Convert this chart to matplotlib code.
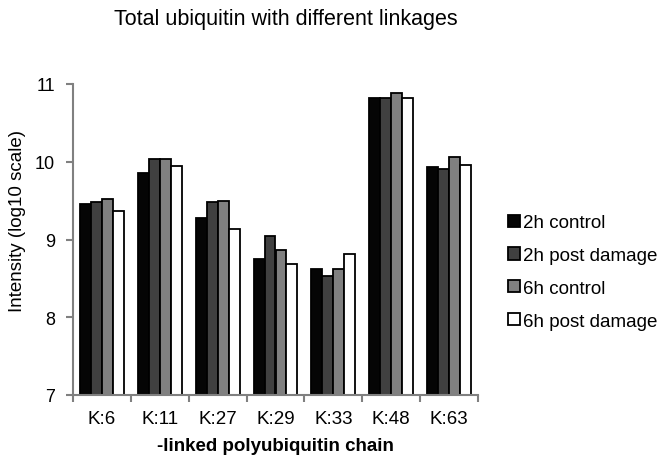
import matplotlib.pyplot as plt
import numpy as np

plt.rcParams['font.family'] = ['Liberation Sans', 'DejaVu Sans']

categories = ['K:6', 'K:11', 'K:27', 'K:29', 'K:33', 'K:48', 'K:63']
series = ['2h control', '2h post damage', '6h control', '6h post damage']
ctrl_2h = [9.46, 9.86, 9.28, 8.75, 8.62, 10.82, 9.93]
damage_2h = [9.48, 10.04, 9.48, 9.05, 8.53, 10.82, 9.91]
ctrl_6h = [9.52, 10.04, 9.50, 8.87, 8.62, 10.89, 10.06]
damage_6h = [9.37, 9.95, 9.13, 8.68, 8.81, 10.82, 9.96]
colors = ['#050505', '#404040', '#808080', '#ffffff']

W, H = 665, 460
fig = plt.figure(figsize=(W / 100, H / 100), dpi=100)
# axes box in pixels: left 73, right 478, top 85, bottom 396
ax = fig.add_axes([73 / W, 1 - 396 / H, (478 - 73) / W, (396 - 85) / H])

x = np.arange(len(categories))
w = 0.19
base = 7
for i, vals in enumerate([ctrl_2h, damage_2h, ctrl_6h, damage_6h]):
    v = np.array(vals)
    ax.bar(x + (i - 1.5) * w, v - base, w, bottom=base, color=colors[i],
           edgecolor='black', linewidth=1.3, label=series[i])

ax.set_xlim(-0.5, len(categories) - 0.5)
ax.set_ylim(7, 11)
ax.set_yticks([7, 8, 9, 10, 11])
ax.set_xticks(x)
ax.set_xticklabels(categories)
ax.set_xticks(np.arange(-0.5, len(categories)), minor=True)
ax.tick_params(axis='x', which='major', length=0, labelsize=13.5, pad=11)
ax.tick_params(axis='x', which='minor', length=5, color='#808080', width=1.5)
ax.tick_params(axis='y', length=5, color='#808080', width=1.5, labelsize=13,
               pad=8)
for s in ['top', 'right']:
    ax.spines[s].set_visible(False)
for s in ['left', 'bottom']:
    ax.spines[s].set_color('#808080')
    ax.spines[s].set_linewidth(1.5)

ax.set_xlabel('-linked polyubiquitin chain', fontsize=13.5, fontweight='bold',
              labelpad=7)
fig.text(18 / W, 1 - 221.5 / H, 'Intensity (log10 scale)', fontsize=13.5,
         rotation=90, ha='center', va='center')
fig.text(286 / W, 1 - 20 / H, 'Total ubiquitin with different linkages',
         fontsize=15.5, ha='center', va='center')

ax.legend(loc='center left', bbox_to_anchor=(508 / W, 1 - 273 / H),
          bbox_transform=fig.transFigure, frameon=False, borderaxespad=0,
          borderpad=0, fontsize=13.5, handlelength=0.64, handleheight=0.64,
          handletextpad=0.15, labelspacing=0.84)

fig.savefig('out.png', dpi=100)
